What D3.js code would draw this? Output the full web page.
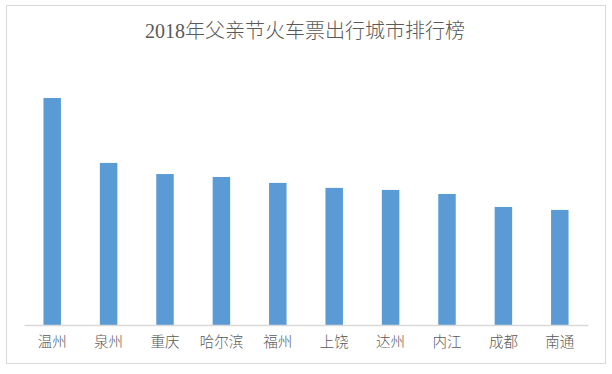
<!DOCTYPE html>
<html>
<head>
<meta charset="utf-8">
<script src="https://cdn.jsdelivr.net/npm/d3@7"></script>
<style>
  body { margin: 0; background: #fff; }
  svg { display: block; }
</style>
</head>
<body>
<svg id="chart" width="612" height="374"></svg>
<script>
const cities = ['温州', '泉州', '重庆', '哈尔滨', '福州', '上饶', '达州', '内江', '成都', '南通']
// relative index (top bar = 100)
const values = [100, 71.4, 66.5, 65.2, 62.6, 60.4, 59.5, 57.7, 52.0, 50.7]
const title = '2018年父亲节火车票出行城市排行榜'

const svg = d3.select('#chart')
const textColour = '#595959'
const barColour = '#5b9bd5'

// chart frame
svg.append('rect')
  .attr('x', 6.5).attr('y', 5.5)
  .attr('width', 599).attr('height', 358)
  .attr('fill', '#fff')
  .attr('stroke', '#d9d9d9')

svg.append('text')
  .attr('x', 305).attr('y', 38)
  .attr('text-anchor', 'middle')
  .attr('fill', textColour)
  .style('font-family', '"Liberation Serif", "Noto Sans CJK SC", serif')
  .style('font-size', '20px')
  .style('font-weight', 300)
  .text(title)

const x = d3.scaleBand()
  .domain(cities)
  .range([24, 588])
  .paddingInner(0.69)
  .paddingOuter(0.345)

const y = d3.scaleLinear()
  .domain([0, 100])
  .range([325, 98])

svg.append('g')
  .selectAll('rect')
  .data(cities)
  .join('rect')
  .attr('x', (d) => x(d))
  .attr('width', x.bandwidth())
  .attr('y', (d, i) => y(values[i]))
  .attr('height', (d, i) => y(0) - y(values[i]))
  .attr('fill', barColour)

const axis = svg.append('g')
  .attr('transform', `translate(0, ${y(0)})`)
  .call(d3.axisBottom(x).tickSize(0).tickPadding(12))

axis.select('.domain').attr('stroke', '#d9d9d9').attr('stroke-width', 1.5)
axis.selectAll('text')
  .attr('fill', textColour)
  .style('font-family', '"Noto Sans CJK SC", sans-serif')
  .style('font-size', '14.5px')
  .style('font-weight', 300)
</script>
</body>
</html>
